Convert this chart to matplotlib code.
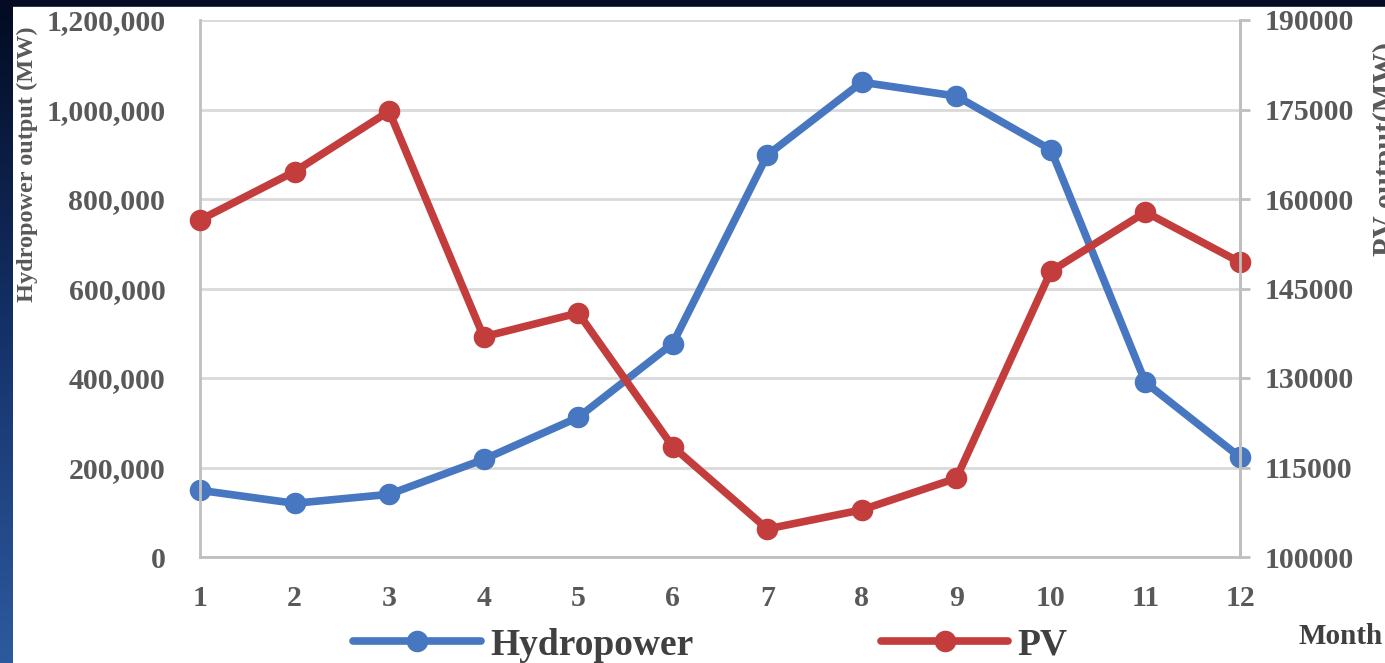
import matplotlib
matplotlib.use('Agg')
import matplotlib.pyplot as plt
from matplotlib.colors import LinearSegmentedColormap
import numpy as np

plt.rcParams['font.family'] = ['Liberation Serif', 'DejaVu Serif']
plt.rcParams['font.weight'] = 'bold'

# monthly data
months = [1, 2, 3, 4, 5, 6, 7, 8, 9, 10, 11, 12]
hydro = [149000, 120000, 140000, 218000, 312000, 477000,
         898000, 1061000, 1030000, 910000, 390000, 223000]
pv = [156500, 164600, 174700, 136900, 140900, 118500,
      104700, 107900, 113200, 147900, 157800, 149400]

left_ticks = [0, 200000, 400000, 600000, 800000, 1000000, 1200000]
right_ticks = [100000, 115000, 130000, 145000, 160000, 175000, 190000]

blue = '#4677c0'
red = '#c33d3d'
tick_col = '#595959'
grid_col = '#d9d9d9'
spine_col = '#bfbfbf'

W, H = 1385, 663
fig = plt.figure(figsize=(W / 100, H / 100), dpi=100, facecolor='#030c22')

# white card + blue strip on the left
card = plt.Rectangle((13 / W, 0), 1 - 13 / W, 1 - 7 / H,
                     transform=fig.transFigure, color='white', zorder=-10)
fig.patches.append(card)
strip = fig.add_axes([0, 0, 13 / W, 1 - 7 / H])
cmap = LinearSegmentedColormap.from_list('strip', ['#2d5a9e', '#14326a', '#030c22'])
strip.imshow(np.linspace(0, 1, 200).reshape(-1, 1), aspect='auto', cmap=cmap, origin='lower')
strip.axis('off')

ax = fig.add_axes([200 / W, 1 - 557 / H, 1040 / W, 537 / H])
ax.set_facecolor('white')
ax2 = ax.twinx()

l1, = ax.plot(months, hydro, color=blue, lw=5.5, marker='o', ms=14.5, clip_on=False,
              label='Hydropower', solid_capstyle='round')
l2, = ax2.plot(months, pv, color=red, lw=5.5, marker='o', ms=14.5, clip_on=False,
               label='PV', solid_capstyle='round')

ax.set_xlim(1, 12)
ax.set_ylim(0, 1200000)
ax2.set_ylim(100000, 190000)
ax.set_xticks(months)
ax.set_yticks(left_ticks)
ax.set_yticklabels([f'{v:,}' for v in left_ticks])
ax2.set_yticks(right_ticks)
ax2.set_yticklabels([str(v) for v in right_ticks])

ax.grid(axis='y', color=grid_col, lw=2)
ax.set_axisbelow(True)

for a in (ax, ax2):
    for s in a.spines.values():
        s.set_color(spine_col)
        s.set_linewidth(2)
    a.spines['top'].set_visible(False)
ax2.spines['left'].set_visible(False)
ax2.spines['bottom'].set_visible(False)

ax.tick_params(axis='y', length=0, pad=25, labelsize=21.5, labelcolor=tick_col)
ax.tick_params(axis='x', length=0, pad=20, labelsize=21.5, labelcolor=tick_col)
ax2.tick_params(axis='y', length=7, width=2, color=spine_col, pad=11,
                labelsize=21.5, labelcolor=tick_col)

fig.text(27 / W, 1 - 164 / H, 'Hydropower output (MW)', rotation=90, ha='center',
         va='center', fontsize=17.5, color=tick_col)
fig.text(1387 / W, 1 - 149 / H, 'PV output(MW)', rotation=90, ha='center',
         va='center', fontsize=22, color=tick_col)
fig.text(1383 / W, 1 - 636 / H, 'Month', ha='right', va='center', fontsize=21,
         color='#404040')

fig.legend(handles=[l1, l2], loc='center', bbox_to_anchor=(0.513, 0.027), ncol=2,
           frameon=False, fontsize=27, handlelength=3.4, handletextpad=0.25,
           columnspacing=5, labelcolor='#404040')

fig.savefig('out.png', dpi=100, facecolor=fig.get_facecolor())
